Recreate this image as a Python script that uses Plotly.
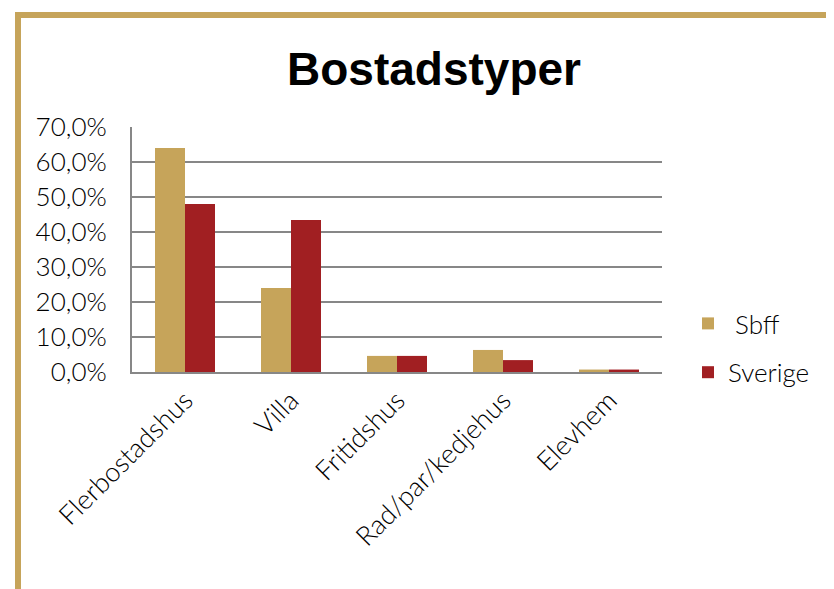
import plotly.graph_objects as go

categories = ["Flerbostadshus", "Villa", "Fritidshus", "Rad/par/kedjehus", "Elevhem"]
sbff = [0.640, 0.240, 0.046, 0.063, 0.007]
sverige = [0.480, 0.434, 0.046, 0.034, 0.007]
series_names = ["\u00a0Sbff", "Sverige"]
tick_vals = [0, 0.1, 0.2, 0.3, 0.4, 0.5, 0.6, 0.7]

gold = "#C6A45A"
red = "#A11F22"
grid = "#878787"
font_main = "Lato, 'Open Sans', sans-serif"
light = 300

# page body has an 8px margin; all positions below are page pixels minus that
OFF = 8
W, H = 834 - OFF, 589 - OFF
L = 132 - OFF
T = 127 - OFF
pw, ph = 530, 245
R = W - L - pw
B = H - T - ph

def px_x(x):
    return (x - OFF - L) / pw

def px_y(y):
    return 1 + (T - (y - OFF)) / ph

fig = go.Figure()
fig.add_bar(x=categories, y=sbff, name=series_names[0], marker_color=gold,
            marker_line_width=0, legendgroup="a")
fig.add_bar(x=categories, y=sverige, name=series_names[1], marker_color=red,
            marker_line_width=0, legendgroup="b")

fig.update_layout(
    width=W, height=H,
    margin=dict(l=L, r=R, t=T, b=B, autoexpand=False),
    paper_bgcolor="white", plot_bgcolor="white",
    barmode="group", bargap=0.434, bargroupgap=0,
    separators=", ",
    title=dict(text="<b>Bostadstyper</b>", x=px_x(434), xref="paper", xanchor="center",
               y=1 - (69 - OFF) / H, yanchor="middle",
               font=dict(family="'Liberation Sans', Arial, sans-serif", size=46, color="black")),
    showlegend=True,
    legend=dict(x=px_x(688), y=px_y(300), xanchor="left", yanchor="top",
                font=dict(family=font_main, size=26, color="black", weight=light),
                itemsizing="constant", tracegroupgap=12, bgcolor="rgba(0,0,0,0)"),
    font=dict(family=font_main, color="black"),
)
fig.update_yaxes(range=[0, 0.7], tickvals=tick_vals, tickformat=".1%",
                 showgrid=True, gridcolor=grid, gridwidth=1.5,
                 showline=True, linecolor=grid, linewidth=2,
                 ticks="", ticklabelstandoff=18,
                 tickfont=dict(size=26, family=font_main, color="black", weight=light),
                 zeroline=False, fixedrange=True)
fig.update_xaxes(showline=True, linecolor=grid, linewidth=2, tickangle=-45,
                 tickfont=dict(size=27, family=font_main, color="black", weight=light),
                 showgrid=False, fixedrange=True)

# golden frame (top and left)
fig.add_shape(type="line", xref="paper", yref="paper",
              x0=px_x(15), x1=px_x(900), y0=px_y(15), y1=px_y(15),
              line=dict(color=gold, width=6))
fig.add_shape(type="line", xref="paper", yref="paper",
              x0=px_x(18), x1=px_x(18), y0=px_y(12), y1=px_y(700),
              line=dict(color=gold, width=6))

fig.write_html("out.html")
